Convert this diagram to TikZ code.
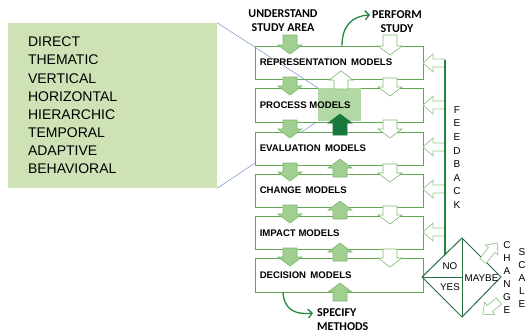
\documentclass[tikz,border=0pt]{standalone}
\usepackage{fontspec}
\setmainfont{Liberation Sans}
\newfontfamily\calib{Carlito}
\usetikzlibrary{arrows.meta}
\definecolor{boxgreen}{RGB}{100,165,85}
\definecolor{lightarrow}{RGB}{160,207,145}
\definecolor{lightarrowline}{RGB}{125,185,110}
\definecolor{darkarrow}{RGB}{25,120,60}
\definecolor{hilite}{RGB}{178,216,165}
\definecolor{panelgreen}{RGB}{206,226,182}
\definecolor{fbgreen}{RGB}{35,135,65}
\definecolor{diagreen}{RGB}{40,110,65}
\definecolor{hollowline}{RGB}{150,200,140}
\definecolor{leaderblue}{RGB}{110,145,195}
% block arrow: style, x, y (tail), angle, length, shaft half width, head half width, head length
\newcommand\blockarrow[8]{%
  \begin{scope}[shift={(#2,#3)},rotate=#4]
    \filldraw[#1] (0,-#6) -- ({#5-#8},-#6) -- ({#5-#8},-#7) -- (#5,0) -- ({#5-#8},#7) -- ({#5-#8},#6) -- (0,#6) -- cycle;
  \end{scope}}
\newcommand\downarr[3]{\blockarrow{#1}{#2}{#3}{-90}{18}{7}{12}{9}}
\newcommand\uparr[4]{\blockarrow{#1}{#2}{#3}{90}{#4}{7}{12}{9}}
\newcommand\fbarr[1]{\blockarrow{hollowblk}{445}{#1}{180}{22}{4}{9}{10}}
\tikzset{
  modelbox/.style={draw=boxgreen, fill=white, line width=0.9pt, minimum width=168pt, minimum height=33pt, inner sep=0pt},
  boxlabel/.style={font=\fontsize{9.6}{11}\selectfont\bfseries, anchor=west, inner sep=0pt},
  toplabel/.style={font=\calib\fontsize{12}{14}\selectfont\bfseries, align=center, inner sep=0pt},
  lightblk/.style={fill=lightarrow, draw=lightarrowline, line width=0.6pt},
  whiteblk/.style={fill=white, draw=lightarrowline, line width=0.6pt},
  darkblk/.style={fill=darkarrow, draw=darkarrow, line width=0.6pt},
  hollowblk/.style={fill=white, draw=hollowline, line width=0.7pt},
  vletters/.style={align=center, inner sep=0pt},
  diatext/.style={font=\fontsize{9.8}{11}\selectfont, inner sep=0pt},
  curvearrow/.style={fbgreen, line width=1.3pt, -{Straight Barb[length=4pt,width=9pt,line width=1.3pt]}},
  leader/.style={leaderblue, line width=0.5pt}
}
\begin{document}
\begin{tikzpicture}[x=1pt,y=-1pt]
\useasboundingbox (0,0) rectangle (532,333);
% left panel
\node[fill=panelgreen, minimum width=209pt, minimum height=165pt, inner xsep=20pt, text width=169pt, align=left,
      font=\fontsize{14}{18.15}\selectfont] (panel) at (112.5,105.5)
  {DIRECT\\THEMATIC\\VERTICAL\\HORIZONTAL\\HIERARCHIC\\TEMPORAL\\ADAPTIVE\\BEHAVIORAL};
% lower leader end (drawn behind boxes)
\coordinate (hlsw) at (318,121);
\draw[leader] (panel.south east) -- (hlsw);
% model boxes
\node[modelbox] (rep)  at (339,62.5) {};
\node[modelbox, minimum height=34pt] (proc) at (339,105) {};
\node[modelbox] (eval) at (339,148.5) {};
\node[modelbox] (chg)  at (339,190.5) {};
\node[modelbox] (imp)  at (339,233) {};
\node[modelbox, minimum height=34pt] (dec)  at (339,275) {};
% highlight in process box
\node[fill=hilite, minimum width=43pt, minimum height=33pt, inner sep=0pt] (hl) at (339.5,104.5) {};
\draw[leader] (panel.north east) -- (hl.north west);
% labels
\node[boxlabel] (repl)  at ([xshift=5pt]rep.west)  {REPRESENTATION\hspace{0.45em}MODELS};
\node[boxlabel] (procl) at ([xshift=5pt]proc.west) {PROCESS MODELS};
\node[boxlabel] (evall) at ([xshift=5pt]eval.west) {EVALUATION\hspace{0.45em}MODELS};
\node[boxlabel] (chgl)  at ([xshift=5pt]chg.west)  {CHANGE\hspace{0.45em}MODELS};
\node[boxlabel] (impl)  at ([xshift=5pt]imp.west)  {IMPACT MODELS};
\node[boxlabel] (decl)  at ([xshift=5pt]dec.west)  {DECISION\hspace{0.45em}MODELS};
% top / bottom labels
\node[toplabel] (understand) at (283,21) {UNDERSTAND\\STUDY AREA};
\node[toplabel] (perform) at (397,22) {PERFORM\\STUDY};
\node[toplabel, align=left, anchor=west] (specify) at (317,320) {SPECIFY\\METHODS};
% light green down arrows
\blockarrow{lightblk}{290}{35}{-90}{19}{7}{12}{9}
\downarr{lightblk}{290}{77}
\downarr{lightblk}{290}{120}
\downarr{lightblk}{290}{163}
\downarr{lightblk}{290}{205}
\downarr{lightblk}{290}{248}
% white down arrows
\blockarrow{whiteblk}{390}{35}{-90}{20}{7}{12}{9}
\downarr{whiteblk}{390}{78}
\downarr{whiteblk}{390}{120}
\downarr{whiteblk}{390}{164}
\downarr{whiteblk}{390}{206}
\downarr{whiteblk}{390}{249}
% up arrows
\uparr{whiteblk}{341}{89}{18}
\uparr{darkblk}{340}{135}{21}
\uparr{lightblk}{340}{177}{18}
\uparr{lightblk}{340}{219}{18}
\uparr{lightblk}{340}{261}{18}
\uparr{lightblk}{340}{301}{18}
% curved arrows
\coordinate (performend) at (370,15);
\coordinate (specend) at (313,313);
\draw[curvearrow] ([xshift=3pt]rep.north) .. controls (342,26) and (352,16) .. (performend);
\draw[curvearrow] ([xshift=-56pt]dec.south) .. controls (284,310) and (296,315) .. (specend);
% feedback
\coordinate (fbtop) at (445,60);
\coordinate (fbbot) at (445,255);
\fbarr{63}
\fbarr{105}
\fbarr{147}
\fbarr{189}
\fbarr{232}
\draw[fbgreen, line width=1.5pt] (fbtop) -- (fbbot);
\node[vletters, font=\fontsize{10}{13.6}\selectfont] (feedback) at (457,157.5) {F\\E\\E\\D\\B\\A\\C\\K};
% decision diamond
\coordinate (dL) at (422,277);
\coordinate (dT) at (462,238);
\coordinate (dR) at (501,277);
\coordinate (dB) at (462,317);
\draw[diagreen, line width=1pt, line join=miter] (dL) -- (dT) -- (dR) -- (dB) -- cycle;
\draw[diagreen, line width=1pt] (dT) -- (dB);
\draw[diagreen, line width=1pt] (dL) -- (dL -| dT);
\node[diatext] (no) at (450,266) {NO};
\node[diatext] (yes) at (450,287) {YES};
\node[diatext] (maybe) at (481.5,278.5) {MAYBE};
% change scale arrows
\blockarrow{hollowblk}{483}{261}{52}{23}{4}{8}{9}
\blockarrow{hollowblk}{499}{301}{-141}{21}{4}{8}{9}
\node[vletters, font=\fontsize{10}{13}\selectfont] (change) at (507,277.5) {C\\H\\A\\N\\G\\E};
\node[vletters, font=\fontsize{10}{13}\selectfont] (scale) at (522,278) {S\\C\\A\\L\\E};
\end{tikzpicture}
\end{document}
